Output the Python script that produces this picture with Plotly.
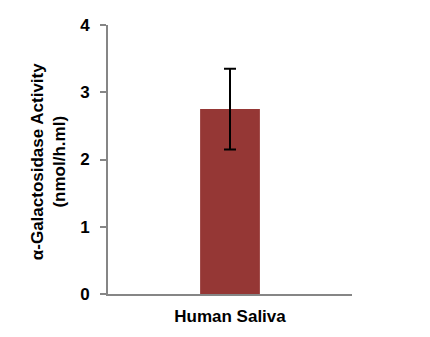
import plotly.graph_objects as go

categories = ["Human Saliva"]
values = [2.75]
errors = [0.6]
yticks = [0, 1, 2, 3, 4]
y_title = "α-Galactosidase Activity<br>(nmol/h.ml)"

font_family = "Arial, 'Liberation Sans', sans-serif"
axis_color = "#868686"

fig = go.Figure()
fig.add_trace(go.Bar(
    x=categories, y=values, width=0.245,
    marker=dict(color="#953735", line=dict(width=0)),
    error_y=dict(type="data", array=errors, visible=True, color="#000000",
                 thickness=2, width=6),
))

fig.add_annotation(
    text=y_title, textangle=-90, xref="paper", yref="paper",
    x=(48 - 108) / 244, y=0.49, xanchor="center", yanchor="middle",
    showarrow=False, align="center",
    font=dict(size=17, family=font_family, weight="bold", color="#000000"),
)

fig.update_layout(
    width=430, height=337,
    margin=dict(l=108, r=78, t=25, b=43, autoexpand=False),
    paper_bgcolor="white", plot_bgcolor="white",
    showlegend=False,
    font=dict(family=font_family, color="#000000"),
    xaxis=dict(
        range=[-0.5, 0.5], showline=True, linecolor=axis_color, linewidth=2,
        ticks="", showgrid=False, zeroline=False, ticklabelstandoff=6,
        tickfont=dict(size=17, family=font_family, weight="bold"),
    ),
    yaxis=dict(
        range=[0, 4], tickvals=yticks, ticktext=[str(v) for v in yticks],
        showline=True, linecolor=axis_color, linewidth=2,
        ticks="outside", ticklen=6, tickwidth=2, tickcolor=axis_color,
        showgrid=False, zeroline=False, ticklabelstandoff=7,
        tickfont=dict(size=17, family=font_family, weight="bold"),
    ),
)

fig.write_html("out.html")
